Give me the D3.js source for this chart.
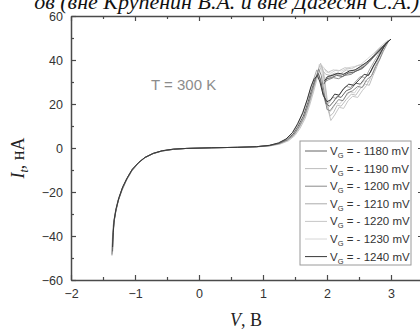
<!DOCTYPE html>
<html>
<head>
<meta charset="utf-8">
<script src="https://cdn.jsdelivr.net/npm/d3@7"></script>
<style>
  html, body { margin: 0; padding: 0; background: #fff; }
  svg { display: block; }
</style>
</head>
<body>
<svg id="chart" width="420" height="329"></svg>
<script>
// Gate voltages of the seven sweeps and their stroke colours
const gateVoltages = [1180, 1190, 1200, 1210, 1220, 1230, 1240];
const seriesColors = ["#646464", "#bdbdbd", "#8a8a8a", "#ababab", "#c6c6c6", "#d6d6d6", "#383838"];

// Current I_t (nA) vs bias V (V), one sweep per gate voltage
const sweep1180 = [[-1.35,-47],[-1.345,-40],[-1.33,-34],[-1.30,-28.5],[-1.26,-23.5],[-1.20,-18.5],[-1.13,-14],[-1.05,-10],[-0.95,-6.8],[-0.85,-4.4],[-0.72,-2.5],[-0.58,-1.3],[-0.4,-0.6],[-0.2,-0.2],[0.2,0.1],[0.6,0.3],[0.9,0.6],[1.1,1.1],[1.25,2.1],[1.37,3.8],[1.47,6.3],[1.55,10],[1.63,14.5],[1.70,20.5],[1.76,26.5],[1.81,31],[1.86,34],[1.90,31],[1.94,25],[1.99,20],[2.04,19],[2.1,21],[2.16,23.5],[2.22,23],[2.3,26],[2.38,27],[2.45,29.5],[2.52,29],[2.6,32],[2.68,34.5],[2.74,38],[2.8,41],[2.87,45],[2.94,48],[2.98,49],[2.93,47.5],[2.86,45.5],[2.78,43],[2.68,40],[2.58,37],[2.5,35.5],[2.42,34.5],[2.33,34],[2.24,32.5],[2.15,33],[2.07,32],[2.0,31.5],[1.95,29]];
const sweep1190 = [[-1.355,-48],[-1.35,-41],[-1.335,-34.5],[-1.305,-29],[-1.265,-24],[-1.205,-19],[-1.135,-14.5],[-1.055,-10.3],[-0.955,-7],[-0.855,-4.5],[-0.725,-2.6],[-0.585,-1.4],[-0.4,-0.6],[-0.2,-0.2],[0.2,0.1],[0.6,0.3],[0.9,0.55],[1.1,1],[1.26,1.9],[1.39,3.5],[1.49,6],[1.57,9.5],[1.65,14],[1.72,20],[1.78,26],[1.83,31.5],[1.87,36],[1.90,38.5],[1.93,36],[1.97,28],[2.01,19],[2.05,14.5],[2.1,16],[2.16,19.5],[2.22,19],[2.3,22],[2.38,24.5],[2.45,24],[2.52,27],[2.6,29],[2.66,28.5],[2.72,33],[2.78,37],[2.84,42],[2.89,46],[2.92,48],[2.88,46.5],[2.8,44],[2.7,41],[2.6,38],[2.5,36.5],[2.4,35],[2.3,35.5],[2.2,33.5],[2.12,34],[2.05,33],[1.98,33.5],[1.94,35]];
const sweep1200 = [[-1.36,-48.5],[-1.35,-41.5],[-1.33,-34],[-1.30,-29],[-1.26,-24],[-1.20,-19],[-1.13,-14.5],[-1.05,-10.5],[-0.95,-7],[-0.85,-4.5],[-0.72,-2.6],[-0.58,-1.4],[-0.4,-0.6],[-0.2,-0.2],[0.2,0.1],[0.6,0.3],[0.9,0.6],[1.1,1.1],[1.25,2],[1.38,3.6],[1.48,6],[1.56,9.5],[1.64,14],[1.71,20],[1.77,26],[1.82,31],[1.87,36],[1.91,33],[1.95,26],[2.0,17.5],[2.05,17],[2.1,19],[2.18,22],[2.25,21.5],[2.32,25],[2.4,26],[2.48,28],[2.55,27.5],[2.62,31],[2.7,33],[2.76,37],[2.82,40],[2.88,44],[2.96,48.5],[2.92,47],[2.85,45],[2.75,42],[2.66,39],[2.55,36],[2.45,35],[2.38,33.5],[2.28,33],[2.18,31.5],[2.1,32],[2.02,31],[1.96,30]];
const sweep1210 = [[-1.35,-46],[-1.34,-39],[-1.325,-33],[-1.295,-28],[-1.255,-23],[-1.195,-18],[-1.125,-13.8],[-1.045,-9.8],[-0.945,-6.6],[-0.845,-4.3],[-0.715,-2.4],[-0.575,-1.3],[-0.4,-0.5],[-0.2,-0.2],[0.2,0.1],[0.6,0.3],[0.9,0.6],[1.1,1.2],[1.24,2.2],[1.36,4],[1.46,6.8],[1.54,10.5],[1.62,15.5],[1.69,21.5],[1.75,27.5],[1.80,32],[1.84,35.5],[1.88,33],[1.92,27],[1.98,20],[2.03,20.5],[2.09,23],[2.15,22.5],[2.22,25.5],[2.3,28],[2.37,27.5],[2.44,30],[2.52,32.5],[2.6,32],[2.67,36],[2.74,39.5],[2.8,42.5],[2.86,45.5],[2.9,47],[2.86,46],[2.78,44],[2.7,41],[2.6,37.5],[2.5,36],[2.4,34],[2.32,34.5],[2.22,33],[2.14,33.5],[2.05,32.5],[1.98,32]];
const sweep1220 = [[-1.36,-49],[-1.355,-42],[-1.34,-35],[-1.31,-29.5],[-1.27,-24.5],[-1.21,-19.5],[-1.14,-15],[-1.06,-10.8],[-0.96,-7.2],[-0.86,-4.7],[-0.73,-2.7],[-0.59,-1.5],[-0.4,-0.6],[-0.2,-0.2],[0.2,0.1],[0.6,0.3],[0.9,0.5],[1.1,0.9],[1.27,1.8],[1.40,3.3],[1.50,5.7],[1.58,9],[1.66,13.5],[1.73,19.5],[1.79,25.5],[1.84,31],[1.89,35.5],[1.92,37.5],[1.95,34],[1.99,25],[2.03,16],[2.06,12.5],[2.12,15],[2.19,18.5],[2.26,18],[2.33,21.5],[2.4,23.5],[2.48,23],[2.55,26],[2.62,28.5],[2.68,32],[2.74,35.5],[2.79,39.5],[2.83,43.5],[2.85,46],[2.82,45],[2.76,43],[2.68,40],[2.58,38],[2.48,37.5],[2.38,36],[2.28,36.5],[2.18,35],[2.1,35.5],[2.02,34.5],[1.96,36]];
const sweep1230 = [[-1.355,-47.5],[-1.35,-40.5],[-1.335,-34],[-1.305,-28.5],[-1.265,-23.5],[-1.205,-18.5],[-1.135,-14.2],[-1.055,-10.2],[-0.955,-6.9],[-0.855,-4.5],[-0.725,-2.5],[-0.585,-1.4],[-0.4,-0.6],[-0.2,-0.2],[0.2,0.1],[0.6,0.3],[0.9,0.55],[1.1,1],[1.26,2],[1.39,3.5],[1.49,6],[1.57,9.5],[1.65,14],[1.72,20],[1.78,26],[1.83,31.5],[1.86,35],[1.88,38],[1.91,36.5],[1.95,29],[1.99,21],[2.03,16],[2.08,17.5],[2.14,20.5],[2.2,20],[2.28,23],[2.36,25.5],[2.43,25],[2.5,28],[2.58,30.5],[2.65,30],[2.71,34],[2.77,38.5],[2.83,43],[2.9,47],[2.95,49],[2.91,48],[2.83,46],[2.73,43],[2.63,40.5],[2.53,38],[2.43,37],[2.33,36.5],[2.23,35],[2.14,35.5],[2.06,34],[1.99,34.5],[1.94,37]];
const sweep1240 = [[-1.35,-45],[-1.34,-38.5],[-1.325,-32.5],[-1.295,-27.5],[-1.25,-22.5],[-1.19,-17.5],[-1.12,-13.5],[-1.04,-9.6],[-0.94,-6.5],[-0.84,-4.2],[-0.71,-2.4],[-0.57,-1.2],[-0.4,-0.5],[-0.2,-0.2],[0.2,0.1],[0.6,0.3],[0.9,0.6],[1.1,1.2],[1.24,2.3],[1.36,4.1],[1.46,7],[1.54,11],[1.62,16],[1.69,22],[1.75,28],[1.80,31.5],[1.85,33],[1.89,30],[1.94,24],[2.0,21],[2.06,22],[2.12,24.5],[2.19,24],[2.26,27],[2.34,29],[2.42,28.5],[2.5,31],[2.58,33.5],[2.65,33],[2.72,37],[2.78,40],[2.85,44],[2.92,47.5],[3.0,49.5],[2.96,48.5],[2.9,47],[2.82,44.5],[2.72,41.5],[2.62,39],[2.52,37],[2.44,35.5],[2.35,35],[2.26,33.5],[2.17,34],[2.08,33],[2.01,32.5],[1.96,30.5]];
const sweeps = [sweep1180, sweep1190, sweep1200, sweep1210, sweep1220, sweep1230, sweep1240];

// Axis ticks
const xMajorTicks = [-2, -1, 0, 1, 2, 3];
const xMinorTicks = [-1.5, -0.5, 0.5, 1.5, 2.5, 3.5];
const yMajorTicks = [-60, -40, -20, 0, 20, 40, 60];
const yMinorTicks = [-50, -30, -10, 10, 30, 50];

const svg = d3.select("#chart");
const plot = { left: 71, right: 423, top: 16, bottom: 280 };

const x = d3.scaleLinear().domain([-2, 3.5]).range([plot.left, plot.right]);
const y = d3.scaleLinear().domain([-60, 60]).range([plot.bottom, plot.top]);

const axisColor = "#4a4a4a";
const labelFont = "Arial, 'Liberation Sans', sans-serif";

// Caption line running off the top edge
svg.append("text")
  .attr("x", 419).attr("y", 9)
  .attr("text-anchor", "end")
  .attr("font-family", "'Liberation Serif', 'DejaVu Serif', serif")
  .attr("font-style", "italic")
  .attr("font-size", 22)
  .attr("fill", "#111")
  .text("ов (вне Крупенин В.А. и вне Дагесян С.А.)");

// Curves, clipped to the frame
svg.append("defs").append("clipPath").attr("id", "frame")
  .append("rect").attr("x", plot.left).attr("y", plot.top)
  .attr("width", plot.right - plot.left).attr("height", plot.bottom - plot.top);

const line = d3.line().x(d => x(d[0])).y(d => y(d[1]));
const curves = svg.append("g").attr("clip-path", "url(#frame)");
// light sweeps first so the dark ones sit on top
const drawOrder = [5, 4, 1, 3, 2, 0, 6];
drawOrder.forEach(i => {
  curves.append("path")
    .datum(sweeps[i])
    .attr("d", line)
    .attr("fill", "none")
    .attr("stroke", seriesColors[i])
    .attr("stroke-width", 1)
    .attr("stroke-linejoin", "round");
});

// Axes: ticks point into the frame
function styleAxis(g) {
  g.selectAll(".domain").attr("stroke", axisColor).attr("stroke-width", 1.5);
  g.selectAll(".tick line").attr("stroke", axisColor).attr("stroke-width", 1.2);
  g.selectAll(".tick text").attr("fill", "#333").attr("font-family", labelFont).attr("font-size", 12.5);
}

const gBottom = svg.append("g").attr("transform", `translate(0,${plot.bottom})`)
  .call(d3.axisBottom(x).tickValues(xMajorTicks).tickSizeInner(-5).tickSizeOuter(0).tickPadding(9).tickFormat(d3.format("d")));
styleAxis(gBottom);
svg.append("g").attr("transform", `translate(0,${plot.bottom})`)
  .call(d3.axisBottom(x).tickValues(xMinorTicks).tickSizeInner(-3).tickSizeOuter(0).tickFormat(""))
  .call(g => { g.select(".domain").remove(); styleAxis(g); });

const gTop = svg.append("g").attr("transform", `translate(0,${plot.top})`)
  .call(d3.axisTop(x).tickValues(xMajorTicks).tickSizeInner(-5).tickSizeOuter(0).tickFormat(""));
styleAxis(gTop);
svg.append("g").attr("transform", `translate(0,${plot.top})`)
  .call(d3.axisTop(x).tickValues(xMinorTicks).tickSizeInner(-3).tickSizeOuter(0).tickFormat(""))
  .call(g => { g.select(".domain").remove(); styleAxis(g); });

const gLeft = svg.append("g").attr("transform", `translate(${plot.left},0)`)
  .call(d3.axisLeft(y).tickValues(yMajorTicks).tickSizeInner(-5).tickSizeOuter(0).tickPadding(8).tickFormat(d3.format("d")));
styleAxis(gLeft);
svg.append("g").attr("transform", `translate(${plot.left},0)`)
  .call(d3.axisLeft(y).tickValues(yMinorTicks).tickSizeInner(-3).tickSizeOuter(0).tickFormat(""))
  .call(g => { g.select(".domain").remove(); styleAxis(g); });

const gRight = svg.append("g").attr("transform", `translate(${plot.right},0)`)
  .call(d3.axisRight(y).tickValues(yMajorTicks).tickSizeInner(-5).tickSizeOuter(0).tickFormat(""));
styleAxis(gRight);
svg.append("g").attr("transform", `translate(${plot.right},0)`)
  .call(d3.axisRight(y).tickValues(yMinorTicks).tickSizeInner(-3).tickSizeOuter(0).tickFormat(""))
  .call(g => { g.select(".domain").remove(); styleAxis(g); });

// Temperature note
svg.append("text")
  .attr("x", x(-0.75)).attr("y", y(26.5))
  .attr("font-family", labelFont).attr("font-size", 15)
  .attr("fill", "#8c8c8c")
  .text("T = 300 K");

// Axis titles
const serif = "'Liberation Serif', 'Times New Roman', serif";
const xTitle = svg.append("text")
  .attr("x", 246).attr("y", 326)
  .attr("text-anchor", "middle")
  .attr("font-family", serif).attr("font-size", 18).attr("fill", "#222");
xTitle.append("tspan").attr("font-style", "italic").text("V");
xTitle.append("tspan").text(", В");

const yTitle = svg.append("text")
  .attr("transform", "translate(24,158) rotate(-90)")
  .attr("text-anchor", "middle")
  .attr("font-family", serif).attr("font-size", 18).attr("fill", "#222");
yTitle.append("tspan").attr("font-style", "italic").text("I");
yTitle.append("tspan").attr("font-style", "italic").attr("font-size", 12).attr("dy", 4).text("t");
yTitle.append("tspan").attr("dy", -4).text(", нА");

// Legend
const legend = { x: 300, y: 141, w: 111, h: 124, row: 17.6 };
svg.append("rect")
  .attr("x", legend.x).attr("y", legend.y)
  .attr("width", legend.w).attr("height", legend.h)
  .attr("fill", "#fff").attr("stroke", "#9a9a9a").attr("stroke-width", 1);

gateVoltages.forEach((vg, i) => {
  const cy = legend.y + 10 + i * legend.row;
  svg.append("line")
    .attr("x1", legend.x + 5).attr("x2", legend.x + 27)
    .attr("y1", cy).attr("y2", cy)
    .attr("stroke", seriesColors[i]).attr("stroke-width", 1);
  const t = svg.append("text")
    .attr("x", legend.x + 30).attr("y", cy + 4)
    .attr("font-family", labelFont).attr("font-size", 11.5).attr("fill", "#333");
  t.append("tspan").text("V");
  t.append("tspan").attr("font-size", 7.5).attr("dy", 3).text("G");
  t.append("tspan").attr("dy", -3).text(` = - ${vg} mV`);
});
</script>
</body>
</html>
